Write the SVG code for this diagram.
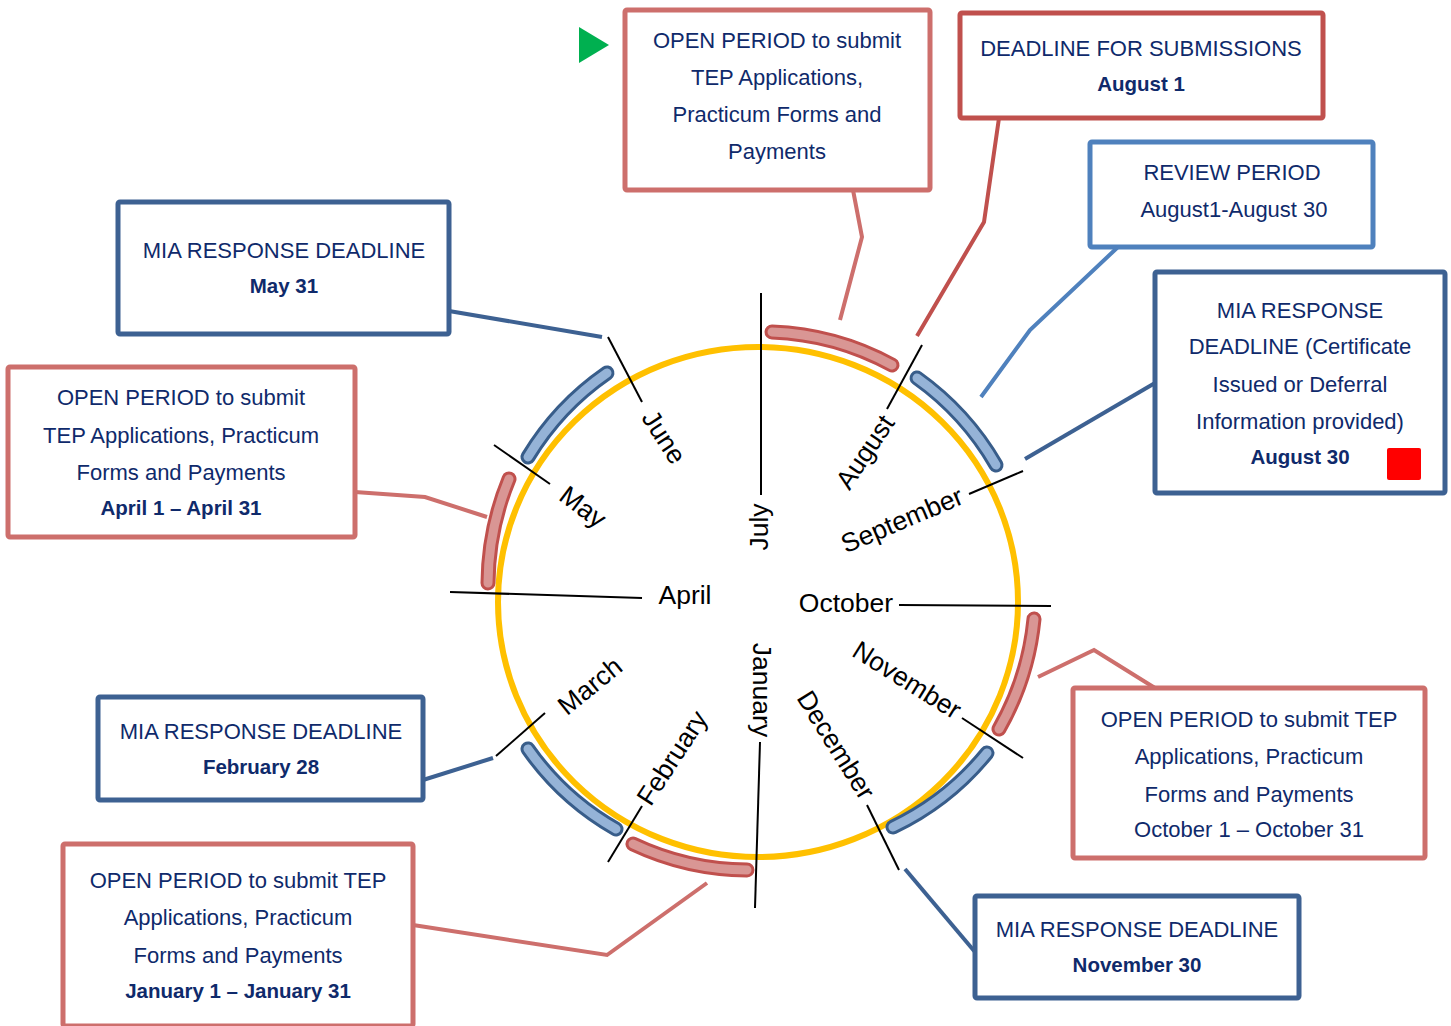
<svg xmlns="http://www.w3.org/2000/svg" width="1451" height="1026" viewBox="0 0 1451 1026">
<style>
  .bx{fill:#fff;stroke-width:5}
  .red{stroke:#CD6F6C}
  .dred{stroke:#C0504D}
  .blu{stroke:#3D6192}
  .lblu{stroke:#4F81BD}
  .t{font-family:"Liberation Sans",Arial,sans-serif;font-size:22px;fill:#0F2A6B;text-anchor:middle}
  .b{font-weight:bold;font-size:20.5px}
  .m{font-family:"Liberation Sans",Arial,sans-serif;font-size:26.5px;fill:#000;text-anchor:middle}
  .tick{stroke:#000;stroke-width:2;fill:none}
  .con{fill:none;stroke-width:4}
  .bo{fill:none;stroke-width:15;stroke-linecap:round}
  .bi{fill:none;stroke-width:9;stroke-linecap:round}
  .ro{stroke:#C0504D}.ri{stroke:#D99694}
  .uo{stroke:#385D8A}.ui{stroke:#95B3D7}
</style>
<rect width="1451" height="1026" fill="#fff"/>

<g id="wheel">
  <ellipse cx="758" cy="602" rx="260" ry="255" fill="none" stroke="#FFC000" stroke-width="6"/>
  <g id="bands">
    <path class="bo ro" d="M772 332 A272 272 0 0 1 892 365"/>
    <path class="bi ri" d="M772 332 A272 272 0 0 1 892 365"/>
    <path class="bo uo" d="M917 378 A277 277 0 0 1 996 465"/>
    <path class="bi ui" d="M917 378 A277 277 0 0 1 996 465"/>
    <path class="bo ro" d="M1034 619 A276 276 0 0 1 999 729"/>
    <path class="bi ri" d="M1034 619 A276 276 0 0 1 999 729"/>
    <path class="bo uo" d="M987 753 A273 273 0 0 1 893 827"/>
    <path class="bi ui" d="M987 753 A273 273 0 0 1 893 827"/>
    <path class="bo ro" d="M747 870 A271 271 0 0 1 633 844"/>
    <path class="bi ri" d="M747 870 A271 271 0 0 1 633 844"/>
    <path class="bo uo" d="M616 829 A272 272 0 0 1 528 749"/>
    <path class="bi ui" d="M616 829 A272 272 0 0 1 528 749"/>
    <path class="bo ro" d="M488 583 A279 279 0 0 1 509 479"/>
    <path class="bi ri" d="M488 583 A279 279 0 0 1 509 479"/>
    <path class="bo uo" d="M528 457 A275 275 0 0 1 607 373"/>
    <path class="bi ui" d="M528 457 A275 275 0 0 1 607 373"/>
  </g>
  <g id="ticks">
    <line class="tick" x1="608" y1="337" x2="642" y2="402"/>
    <line class="tick" x1="494" y1="445" x2="550" y2="484"/>
    <line class="tick" x1="450" y1="592" x2="642" y2="598"/>
    <line class="tick" x1="761" y1="293" x2="761" y2="495"/>
    <line class="tick" x1="922" y1="345" x2="887" y2="409"/>
    <line class="tick" x1="1023" y1="471" x2="969" y2="494"/>
    <line class="tick" x1="899" y1="605" x2="1051" y2="606"/>
    <line class="tick" x1="962" y1="718" x2="1023" y2="758"/>
    <line class="tick" x1="867" y1="805" x2="899" y2="870"/>
    <line class="tick" x1="760" y1="742" x2="755" y2="908"/>
    <line class="tick" x1="642" y1="806" x2="608" y2="862"/>
    <line class="tick" x1="545" y1="713" x2="496" y2="756"/>
  </g>
  <g id="months">
    <text class="m" transform="translate(664,437) rotate(57)" dy="9">June</text>
    <text class="m" transform="translate(583,507) rotate(37)" dy="9">May</text>
    <text class="m" x="685" y="604">April</text>
    <text class="m" transform="translate(759,527) rotate(-90)" dy="9">July</text>
    <text class="m" transform="translate(865,452) rotate(-56)" dy="9">August</text>
    <text class="m" transform="translate(902,520) rotate(-23)" dy="9">September</text>
    <text class="m" x="846" y="612">October</text>
    <text class="m" transform="translate(907,680) rotate(32)" dy="9">November</text>
    <text class="m" transform="translate(836,745) rotate(58)" dy="9">December</text>
    <text class="m" transform="translate(762,690) rotate(90)" dy="9">January</text>
    <text class="m" transform="translate(672,758) rotate(-57)" dy="9">February</text>
    <text class="m" transform="translate(590,686) rotate(-39)" dy="9">March</text>
  </g>
</g>

<g id="connectors">
  <polyline class="con red" points="853,190 862,237 840,320"/>
  <polyline class="con dred" points="999,118 984,222 917,336"/>
  <polyline class="con lblu" points="1118,247 1030,330 981,397"/>
  <polyline class="con blu" points="1155,383 1025,459"/>
  <polyline class="con blu" points="449,311 602,337"/>
  <polyline class="con red" points="355,492 425,497 487,517"/>
  <polyline class="con blu" points="423,780 493,758"/>
  <polyline class="con red" points="413,925 607,955 707,883"/>
  <polyline class="con red" points="1155,688 1094,650 1038,677"/>
  <polyline class="con blu" points="975,952 905,869"/>
</g>

<g id="start-marker">
  <polygon points="579,27 609,45 579,63" fill="#00B050"/>
</g>

<g id="open-jul">
  <rect class="bx red" x="625" y="10" width="305" height="180" rx="2"/>
  <text class="t" x="777" y="48">OPEN PERIOD to submit</text>
  <text class="t" x="777" y="85">TEP Applications,</text>
  <text class="t" x="777" y="122">Practicum Forms and</text>
  <text class="t" x="777" y="159">Payments</text>
</g>

<g id="deadline-aug1">
  <rect class="bx dred" x="960" y="13" width="363" height="105" rx="2"/>
  <text class="t" x="1141" y="56">DEADLINE FOR SUBMISSIONS</text>
  <text class="t b" x="1141" y="91">August 1</text>
</g>

<g id="review">
  <rect class="bx lblu" x="1090" y="142" width="283" height="105" rx="2"/>
  <text class="t" x="1232" y="180">REVIEW PERIOD</text>
  <text class="t" x="1234" y="217">August1-August 30</text>
</g>

<g id="mia-aug30">
  <rect class="bx blu" x="1155" y="272" width="290" height="221" rx="2"/>
  <text class="t" x="1300" y="318">MIA RESPONSE</text>
  <text class="t" x="1300" y="354">DEADLINE (Certificate</text>
  <text class="t" x="1300" y="392">Issued or Deferral</text>
  <text class="t" x="1300" y="429">Information provided)</text>
  <text class="t b" x="1300" y="464">August 30</text>
  <rect x="1387" y="448" width="34" height="32" rx="2" fill="#FF0000"/>
</g>

<g id="mia-may31">
  <rect class="bx blu" x="118" y="202" width="331" height="132" rx="2"/>
  <text class="t" x="284" y="258">MIA RESPONSE DEADLINE</text>
  <text class="t b" x="284" y="293">May 31</text>
</g>

<g id="open-apr">
  <rect class="bx red" x="8" y="367" width="347" height="170" rx="2"/>
  <text class="t" x="181" y="405">OPEN PERIOD to submit</text>
  <text class="t" x="181" y="443">TEP Applications, Practicum</text>
  <text class="t" x="181" y="480">Forms and Payments</text>
  <text class="t b" x="181" y="515">April 1 – April 31</text>
</g>

<g id="mia-feb28">
  <rect class="bx blu" x="98" y="697" width="325" height="103" rx="2"/>
  <text class="t" x="261" y="739">MIA RESPONSE DEADLINE</text>
  <text class="t b" x="261" y="774">February 28</text>
</g>

<g id="open-jan">
  <rect class="bx red" x="63" y="844" width="350" height="182" rx="2"/>
  <text class="t" x="238" y="888">OPEN PERIOD to submit TEP</text>
  <text class="t" x="238" y="925">Applications, Practicum</text>
  <text class="t" x="238" y="963">Forms and Payments</text>
  <text class="t b" x="238" y="998">January 1 – January 31</text>
</g>

<g id="open-oct">
  <rect class="bx red" x="1073" y="688" width="352" height="170" rx="2"/>
  <text class="t" x="1249" y="727">OPEN PERIOD to submit TEP</text>
  <text class="t" x="1249" y="764">Applications, Practicum</text>
  <text class="t" x="1249" y="802">Forms and Payments</text>
  <text class="t" x="1249" y="837">October 1 – October 31</text>
</g>

<g id="mia-nov30">
  <rect class="bx blu" x="975" y="896" width="324" height="102" rx="2"/>
  <text class="t" x="1137" y="937">MIA RESPONSE DEADLINE</text>
  <text class="t b" x="1137" y="972">November 30</text>
</g>
</svg>
